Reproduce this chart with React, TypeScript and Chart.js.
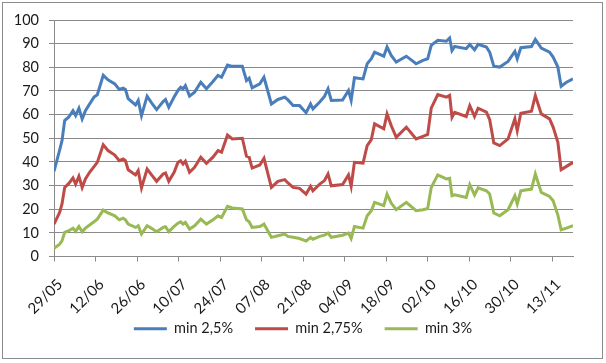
import React, { useEffect, useRef } from 'react';
import { Chart, registerables } from 'chart.js';

Chart.register(...registerables);

// day offsets from 29/05
const days = [
  0, 1.9, 2.7, 3.6, 5, 6.4, 7.3, 8.4, 9.5, 10.6,
  12, 13.5, 14.6, 16.6, 18.2, 20.5, 22, 23.3, 24.1, 25,
  27.5, 28.4, 29.5, 31.4, 32.9, 34.6, 36.8, 37.6, 38.7, 40.5,
  41.8, 42.7, 43.5, 44.3, 45.7, 47.4, 49.5, 51.4, 53.6, 55.3,
  56.5, 58.5, 60.1, 63.5, 64.9, 65.8, 66.8, 69.4, 70.8, 73.3,
  75.5, 77.8, 78.9, 80.6, 82.8,
  85, 86.5, 87.3, 89.6, 91.2, 92.4, 93.5, 97.3, 99.3, 100.2,
  101.3, 104.2, 105.6, 107, 108.1, 111.2, 112.3, 113.7, 115.4, 118.8,
  122.1, 124.4, 126, 127.2, 129.4,
  132.3, 133.4, 134.2, 135.1, 139, 140.2, 141.8, 143, 145.8, 146.9,
  148.3, 150.3, 153.1, 155.4, 156.2, 157.4, 161, 162.3, 164.3, 167.1,
  168.3, 169.9, 171, 172.8, 175,
];

const min25 = [
  36, 45, 49, 57.5, 59, 61.7, 59.6, 62.7, 58.2, 61.7,
  64.5, 67.4, 68.4, 76.6, 74.7, 73, 70.6, 71.2, 70.6, 66.7,
  64.1, 66, 59.6, 67.8, 65, 62.1, 65.5, 66.4, 63.1, 67.4,
  70.2, 71.6, 70.9, 72.3, 67.8, 69.5, 73.7, 70.9, 74, 76.6,
  75.8, 81, 80.4, 80.4, 74.4, 75.4, 71.3, 73, 75.8, 64.5,
  66.4, 67.4, 66.2, 63.8, 63.8,
  60.8, 64.5, 62.4, 65.3, 67.7, 70.9, 66, 66.2, 70.2, 66,
  75.6, 75.1, 81.5, 83.6, 86.4, 84.7, 88.6, 85, 82.2, 84.7,
  81.5, 82.9, 83.6, 89.3, 91.4,
  91, 92.4, 87.1, 88.8, 87.9, 89.6, 87.4, 89.7, 88.6, 86.4,
  80.5, 80.1, 82.5, 86.7, 83.6, 88.3, 88.8, 91.8, 88.1, 86.4,
  84.3, 80.1, 72, 73.7, 75.1,
];

const min275 = [
  13.7, 18.6, 22.2, 29.2, 30.9, 33.2, 30.6, 33.9, 29.2, 32.8,
  35.6, 38, 39.8, 47.2, 44.8, 42.9, 40.5, 41.2, 40.5, 36.7,
  34.5, 36.3, 29, 37, 34.5, 31.8, 34.9, 35.3, 31.8, 35.6,
  39.8, 40.5, 39.1, 40.3, 35.6, 37.7, 42, 39.4, 42, 44.8,
  44.1, 51.4, 49.7, 50, 42.4, 42, 37.4, 38.7, 41.5, 29.2,
  31.8, 32.5, 31.1, 29.2, 28.8,
  26.4, 29.7, 27.8, 30.6, 32.1, 34.9, 29.9, 30.4, 34.5, 29.7,
  39.8, 39.5, 46.9, 49.4, 56.1, 54, 60.3, 55.4, 50.4, 54.7,
  49.7, 50.8, 51.6, 62.7, 68.5,
  67.4, 68.1, 58.9, 61, 59.2, 63.8, 59.2, 62.7, 61, 57.9,
  48, 46.9, 49.7, 58.2, 53.2, 60.6, 61.4, 68.1, 60.3, 58.2,
  54.7, 48.3, 36.7, 38.1, 39.8,
];

const min3 = [
  3.5, 5.2, 6.6, 10.2, 10.9, 12, 10.6, 12.7, 10.5, 12,
  13.3, 14.7, 15.8, 19.6, 18.4, 17.2, 15.5, 16.2, 15.5, 13.7,
  12.3, 13, 9.5, 13, 11.9, 10.5, 12.3, 12.6, 10.5, 12.7,
  14.1, 14.7, 13.7, 14.4, 11.6, 13, 15.8, 13.7, 15.5, 17.2,
  16.5, 21.2, 20.5, 20.1, 15.5, 14.7, 12.3, 12.7, 13.7, 8.1,
  8.8, 9.5, 8.5, 8.1, 7.6,
  6.5, 8.1, 7.3, 8.5, 9, 9.9, 8.1, 9, 9.9, 7.6,
  12.7, 12, 17.2, 19.4, 22.9, 21.5, 26.4, 22.6, 19.8, 22.9,
  19.4, 19.8, 20.3, 29.2, 34.5,
  32.8, 33.1, 25.7, 26.1, 25, 30.4, 26, 29, 27.8, 26.4,
  18.4, 17.2, 19.8, 25.7, 22.2, 27.8, 28.5, 34.9, 27.1, 25.4,
  23.6, 17.5, 11.3, 12, 13,
];

const tickLabels = ['29/05', '12/06', '26/06', '10/07', '24/07', '07/08', '21/08', '04/09', '18/09', '02/10', '16/10', '30/10', '13/11'];
const seriesNames = ['min 2,5%', 'min 2,75%', 'min 3%'];
const lastDay = 175;
const tickStep = 14;

const FONT = 'Lato, "Liberation Sans", sans-serif';
const GRID = '#8a8a8a';
const TEXT = '#1a1a1a';

export default function App() {
  const ref = useRef<HTMLCanvasElement>(null);

  useEffect(() => {
    document.body.style.margin = '0';
    const toPts = (arr: number[]) => days.map((d, i) => ({ x: d, y: arr[i] }));
    const colors = ['#4A7EBB', '#BE4B48', '#98B954'];
    const series = [min25, min275, min3];
    const chart = new Chart(ref.current!, {
      type: 'line',
      data: {
        datasets: series.map((s, i) => ({
          label: seriesNames[i],
          data: toPts(s),
          borderColor: colors[i],
          backgroundColor: colors[i],
          borderWidth: 3,
          pointRadius: 0,
          tension: 0,
          fill: false,
          xAxisID: 'x',
          yAxisID: 'y',
        })),
      },
      options: {
        animation: false,
        responsive: false,
        maintainAspectRatio: false,
        layout: { padding: { top: 20, left: 0, right: 0, bottom: 17 } },
        plugins: {
          tooltip: { enabled: false },
          legend: {
            position: 'bottom',
            labels: {
              usePointStyle: true,
              pointStyle: 'line',
              pointStyleWidth: 33,
              boxHeight: 14,
              padding: 22,
              color: TEXT,
              font: { family: FONT, size: 14.5 },
            },
          },
        },
        scales: {
          x: {
            type: 'linear',
            min: 0,
            max: lastDay,
            afterBuildTicks: (axis: any) => {
              axis.ticks = tickLabels.map((_, i) => ({ value: i * tickStep }));
            },
            afterFit: (axis: any) => {
              axis.height = 43;
              // let the rotated labels extend below the axis box instead of being clipped
              axis._computeLabelArea = () => undefined;
            },
            ticks: {
              autoSkip: false,
              minRotation: 45,
              maxRotation: 45,
              padding: 14,
              labelOffset: 6,
              color: TEXT,
              font: { family: FONT, size: 15 },
              callback: (v: any) => tickLabels[Math.round(Number(v) / tickStep)] ?? '',
            },
            grid: { drawOnChartArea: false, drawTicks: true, tickLength: 5, color: GRID },
            border: { display: true, color: GRID, width: 1 },
          },
          y: {
            type: 'linear',
            min: 0,
            max: 100,
            afterFit: (axis: any) => { axis.width = 54; },
            ticks: {
              stepSize: 10,
              padding: 10,
              color: TEXT,
              font: { family: FONT, size: 14.5 },
            },
            grid: { color: GRID, tickLength: 5, drawTicks: true },
            border: { display: true, color: GRID, width: 1 },
          },
          yr: {
            type: 'linear',
            position: 'right',
            display: true,
            afterFit: (axis: any) => { axis.width = 33; },
            ticks: { display: false },
            grid: { display: false },
            border: { display: false },
          },
        },
      },
    } as any);
    return () => chart.destroy();
  }, []);

  return (
    <div style={{ position: 'relative', width: 606, height: 363 }}>
      <canvas ref={ref} width={606} height={363} style={{ position: 'absolute', left: 0, top: 0 }} />
      <div
        style={{
          position: 'absolute',
          left: 2,
          top: 2,
          width: 601,
          height: 357,
          border: '1px solid #8c8c8c',
          boxSizing: 'border-box',
          pointerEvents: 'none',
        }}
      />
    </div>
  );
}
